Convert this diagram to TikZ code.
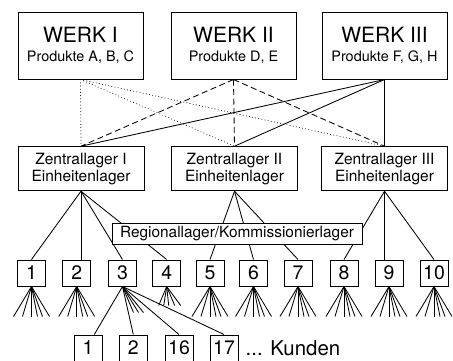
\documentclass[tikz,border=0pt]{standalone}
\usepackage{fontspec}
\setmainfont{TeX Gyre Heros}
\usetikzlibrary{positioning}

\begin{document}
\begin{tikzpicture}[x=1pt,y=-1pt]
  \tikzset{werk/.style = {shape=rectangle,draw,line width=1pt,minimum width=125pt,minimum height=67pt,inner sep=0pt,align=center,
      font=\fontsize{14.4}{18.3}\selectfont}}
  \tikzset{zlager/.style = {shape=rectangle,draw,line width=1pt,minimum width=126pt,minimum height=44pt,inner sep=0pt,align=center,
      font=\fontsize{15.5}{16.8}\selectfont}}
  \tikzset{rlager/.style = {shape=rectangle,draw,fill=white,line width=1pt,minimum width=250pt,minimum height=21pt,inner sep=0pt,
      font=\fontsize{15.4}{18}\selectfont}}
  \tikzset{nummer/.style = {shape=rectangle,draw,line width=1pt,minimum width=28pt,minimum height=26pt,inner sep=0pt,
      font=\fontsize{19.5}{22}\selectfont}}
  \tikzset{pfad/.style = {line width=0.85pt}}
  \tikzset{punkte/.style = {pfad,line cap=round,dash pattern=on 0.2pt off 3pt}}
  \tikzset{striche/.style = {pfad,dash pattern=on 6pt off 3.5pt}}
  \useasboundingbox (0,0) rectangle (453,360);

	% Werke
	\node[werk] (w1) at (80.5,45.5) {{\fontsize{21}{18.3}\selectfont WERK I}\\Produkte A, B, C};
	\node[werk] (w2) at (233.5,45.5) {{\fontsize{21}{18.3}\selectfont WERK II}\\Produkte D, E};
	\node[werk] (w3) at (384.5,45.5) {{\fontsize{21}{18.3}\selectfont WERK III}\\Produkte F, G, H};

	% Zentrallager
	\node[zlager] (z1) at (81,168.7) {Zentrallager I\\Einheitenlager};
	\node[zlager] (z2) at (234.5,168.7) {Zentrallager II\\Einheitenlager};
	\node[zlager] (z3) at (384.5,168.7) {Zentrallager III\\Einheitenlager};

	% Regionallager 1..10
    \foreach \n/\x in {1/31.5,2/76.7,3/122.5,4/166.7,5/210,6/253.5,7/298,8/344,9/389,10/434}
    \node[nummer] (l\n) at (\x,273) {\n};

	% Kunden
    \foreach \n/\x in {1/88,2/133.3,16/179,17/224}
    \node[nummer] (k\n) at (\x,348) {\n};
	\node[right=7pt of k17,inner sep=0pt,font=\fontsize{20.4}{22}\selectfont] (kunden) {... Kunden};

    \foreach \to in {z1,z2,z3}
    \draw[punkte] (w1.south) -- (\to.north);
    \foreach \to in {z1,z2,z3}
    \draw[striche] (w2.south) -- (\to.north);
    \foreach \to in {z1,z2,z3}
    \draw[pfad] (w3.south) -- (\to.north);

    \foreach \from/\to in {z1/l1,z1/l3,z1/l4,z2/l5,z2/l6,z2/l7,z3/l8,z3/l10}
    \draw[pfad] (\from.south) -- (\to.north);
    \draw[pfad] (z1.south) -- (z1.south |- l2.north);
    \draw[pfad] (z3.south) -- (z3.south |- l9.north);

	\node[rlager] (r) at (237,233.5) {Regionallager/Kommissionierlager};

    \foreach \n in {1,2,5,6,7,8,9,10}
    \foreach \d in {-18,-9,0,6,11,18}
    \draw[pfad] (l\n.south) -- ++(\d,30);
    \foreach \d in {-8,-3,2,8,14}
    \draw[pfad] (l4.south) -- ++(\d,19);
    \foreach \d in {11,16,21}
    \draw[pfad] (l3.south) -- ++(\d,26);

    \draw[pfad] (l3.south) -- (k1.65);
    \foreach \to in {k2,k16,k17}
    \draw[pfad] (l3.south) -- (\to.north);
\end{tikzpicture}
\end{document}
